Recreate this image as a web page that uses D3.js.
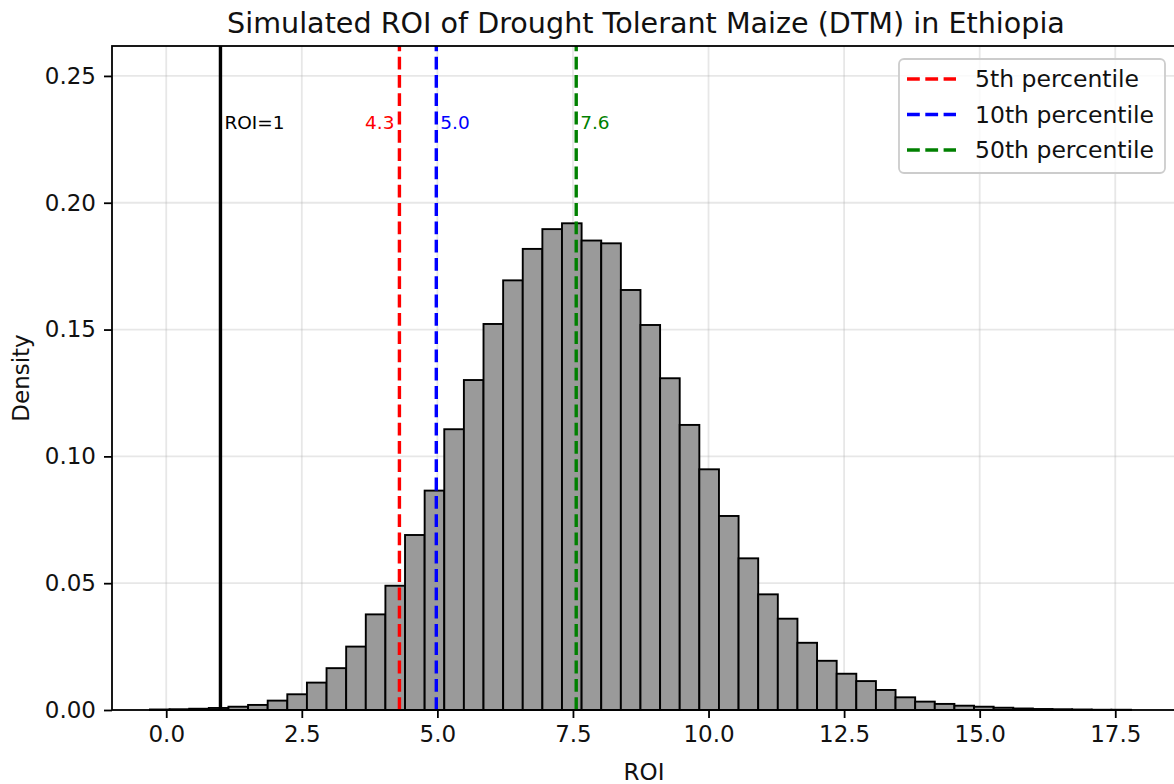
<!DOCTYPE html>
<html>
<head>
<meta charset="utf-8">
<script src="https://cdn.jsdelivr.net/npm/d3@7"></script>
<style>
  body { margin: 0; background: #fff; }
  svg { display: block; font-family: "DejaVu Sans", sans-serif; }
</style>
</head>
<body>
<svg id="chart" width="1174" height="784"></svg>
<script>
// histogram bins (50 bins, density)
const binLeft = -0.30;
const binWidth = 0.3618;
const density = [
    0.0002, 0.0003, 0.0005, 0.0008, 0.0013, 0.0020, 0.0037, 0.0062, 0.0108, 0.0165,
    0.0250, 0.0377, 0.0490, 0.0690, 0.0865, 0.1107, 0.1301, 0.1522, 0.1694, 0.1818,
    0.1896, 0.1919, 0.1851, 0.1840, 0.1656, 0.1518, 0.1308, 0.1124, 0.0949, 0.0765,
    0.0598, 0.0456, 0.0360, 0.0265, 0.0194, 0.0143, 0.0114, 0.0079, 0.0050, 0.0033,
    0.0024, 0.0017, 0.0013, 0.0009, 0.0006, 0.0004, 0.0003, 0.0002, 0.0001, 0.0001
];

// reference lines
const breakEven = 1;
const percentileNames = ['5th percentile', '10th percentile', '50th percentile'];
const percentileValues = [4.30, 4.98, 7.56];
const percentileColors = ['red', 'blue', 'green'];

// axes
const xTicks = [0, 2.5, 5, 7.5, 10, 12.5, 15, 17.5];
const yTicks = [0, 0.05, 0.10, 0.15, 0.20, 0.25];
const xDomain = [-1.0, 18.62];
const yDomain = [0, 0.2618];
const labelY = 0.2315;

const svg = d3.select('#chart');
const plotLeft = 112, plotRight = 1176, plotTop = 46, plotBottom = 710;

const x = d3.scaleLinear().domain(xDomain).range([plotLeft, plotRight]);
const y = d3.scaleLinear().domain(yDomain).range([plotBottom, plotTop]);

// grid
const grid = svg.append('g');
xTicks.forEach(t => {
    grid.append('line')
        .attr('x1', x(t)).attr('x2', x(t))
        .attr('y1', plotTop).attr('y2', plotBottom)
        .attr('stroke', '#b0b0b0').attr('stroke-opacity', 0.3).attr('stroke-width', 1.8);
});
yTicks.forEach(t => {
    grid.append('line')
        .attr('x1', plotLeft).attr('x2', plotRight)
        .attr('y1', y(t)).attr('y2', y(t))
        .attr('stroke', '#b0b0b0').attr('stroke-opacity', 0.3).attr('stroke-width', 1.8);
});

// bars
const bins = density.map((d, i) => ({ x0: binLeft + i * binWidth, x1: binLeft + (i + 1) * binWidth, value: d }));
svg.append('g')
    .selectAll('rect')
    .data(bins)
    .join('rect')
    .attr('x', d => x(d.x0))
    .attr('width', d => x(d.x1) - x(d.x0))
    .attr('y', d => y(d.value))
    .attr('height', d => y(0) - y(d.value))
    .attr('fill', '#9a9a9a')
    .attr('stroke', '#000')
    .attr('stroke-width', 1.9);

// ROI = 1 line
svg.append('line')
    .attr('x1', x(breakEven)).attr('x2', x(breakEven))
    .attr('y1', plotBottom).attr('y2', plotTop)
    .attr('stroke', '#000').attr('stroke-width', 3.4);
svg.append('text')
    .attr('x', x(breakEven) + 4).attr('y', y(labelY))
    .attr('dy', '0.35em')
    .attr('font-size', 18.5)
    .attr('fill', '#000')
    .text('ROI=' + breakEven);

// percentile lines
const fmt1 = d3.format('.1f');
percentileValues.forEach((v, i) => {
    svg.append('line')
        .attr('x1', x(v)).attr('x2', x(v))
        .attr('y1', plotBottom).attr('y2', plotTop)
        .attr('stroke', percentileColors[i]).attr('stroke-width', 3.4)
        .attr('stroke-dasharray', '12.8,5.5');
    // first label sits left of its line, the others to the right
    svg.append('text')
        .attr('x', i === 0 ? x(v) - 5 : x(v) + 4)
        .attr('y', y(labelY))
        .attr('dy', '0.35em')
        .attr('text-anchor', i === 0 ? 'end' : 'start')
        .attr('font-size', 18.5)
        .attr('fill', percentileColors[i])
        .text(fmt1(v));
});

// axes
const xAxis = svg.append('g')
    .attr('transform', `translate(0,${plotBottom})`)
    .call(d3.axisBottom(x).tickValues(xTicks).tickFormat(d3.format('.1f')).tickSize(8).tickPadding(8));
const yAxis = svg.append('g')
    .attr('transform', `translate(${plotLeft},0)`)
    .call(d3.axisLeft(y).tickValues(yTicks).tickFormat(d3.format('.2f')).tickSize(8).tickPadding(8));
[xAxis, yAxis].forEach(a => {
    a.select('.domain').remove();
    a.selectAll('line').attr('stroke', '#000').attr('stroke-width', 1.8);
    a.selectAll('text').attr('font-size', 23).attr('fill', '#111').attr('font-family', 'DejaVu Sans');
});

// spines
svg.append('rect')
    .attr('x', plotLeft).attr('y', plotTop)
    .attr('width', plotRight - plotLeft).attr('height', plotBottom - plotTop)
    .attr('fill', 'none').attr('stroke', '#000').attr('stroke-width', 1.8);

// titles
svg.append('text')
    .attr('x', 646).attr('y', 33)
    .attr('text-anchor', 'middle')
    .attr('font-size', 28.6)
    .attr('fill', '#111')
    .text('Simulated ROI of Drought Tolerant Maize (DTM) in Ethiopia');
svg.append('text')
    .attr('x', (plotLeft + plotRight) / 2).attr('y', 780)
    .attr('text-anchor', 'middle')
    .attr('font-size', 23)
    .attr('fill', '#111')
    .text('ROI');
svg.append('text')
    .attr('transform', `translate(29,${(plotTop + plotBottom) / 2}) rotate(-90)`)
    .attr('text-anchor', 'middle')
    .attr('font-size', 23)
    .attr('fill', '#111')
    .text('Density');

// legend
const legend = svg.append('g').attr('transform', 'translate(899,59)');
legend.append('rect')
    .attr('width', 266).attr('height', 114)
    .attr('rx', 5).attr('ry', 5)
    .attr('fill', '#fff').attr('fill-opacity', 0.8)
    .attr('stroke', '#cccccc').attr('stroke-width', 1.8);
percentileNames.forEach((name, i) => {
    const row = legend.append('g').attr('transform', `translate(0,${20 + i * 35.5})`);
    row.append('line')
        .attr('x1', 8).attr('x2', 57)
        .attr('stroke', percentileColors[i]).attr('stroke-width', 3.4)
        .attr('stroke-dasharray', '12.8,5.5');
    row.append('text')
        .attr('x', 76).attr('dy', '0.35em')
        .attr('font-size', 23.5)
        .attr('fill', '#111')
        .text(name);
});
</script>
</body>
</html>
